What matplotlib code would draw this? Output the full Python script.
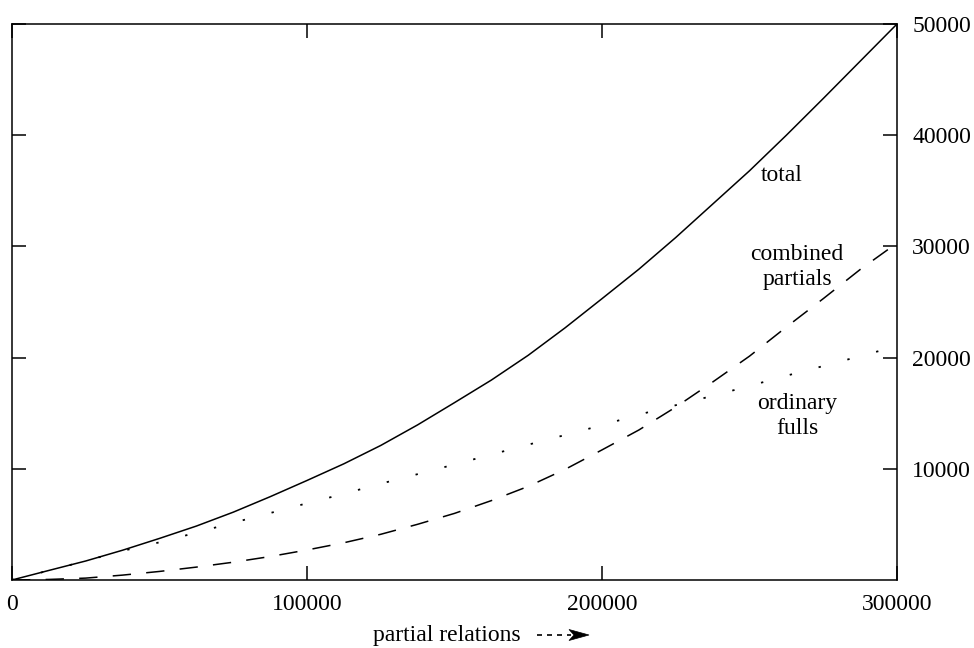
import matplotlib
matplotlib.use("Agg")
import matplotlib.pyplot as plt
from matplotlib.lines import Line2D
from matplotlib.patches import Polygon
import numpy as np

plt.rcParams['font.family'] = ['Liberation Serif', 'DejaVu Serif']

# partial relations (x), values every 12500
partials = [0, 12500, 25000, 37500, 50000, 62500, 75000, 87500, 100000,
            112500, 125000, 137500, 150000, 162500, 175000, 187500, 200000,
            212500, 225000, 237500, 250000, 262500, 275000, 287500, 300000]

total = [0, 860, 1710, 2680, 3740, 4850, 6100, 7490, 8950,
         10450, 12100, 13950, 15950, 17980, 20210, 22680, 25300,
         27950, 30800, 33800, 36800, 40000, 43300, 46650, 50000]
combined_partials = [0, 50, 170, 440, 770, 1160, 1600, 2110, 2700,
                     3350, 4110, 5010, 5990, 7140, 8420, 9950, 11700,
                     13490, 15550, 17800, 20130, 22750, 25300, 27920, 30300]
ordinary_fulls = [0, 850, 1720, 2620, 3390, 4260, 5150, 6020, 6900,
                  7750, 8660, 9520, 10390, 11280, 12170, 13040, 13920,
                  14870, 15720, 16560, 17450, 18370, 19240, 20130, 21030]

xticks = [0, 100000, 200000, 300000]
xticklabels = ['0', '100000', '200000', '300000']
yticks = [10000, 20000, 30000, 40000, 50000]
yticklabels = ['10000', '20000', '30000', '40000', '50000']

W, H = 974, 648
fs = 17

fig = plt.figure(figsize=(W / 100, H / 100), dpi=100)
ax = fig.add_axes([12 / W, 68 / H, 885 / W, 556 / H])

lw = 1.1
ax.plot(partials, total, color='black', lw=lw)
ax.plot(partials, combined_partials, color='black', lw=lw, dashes=(12, 10))
ax.plot(partials, ordinary_fulls, color='black', lw=1.3, dashes=(1.3, 15.2))

ax.set_xlim(0, 300000)
ax.set_ylim(0, 50000)

ax.set_xticks(xticks)
ax.set_xticklabels(xticklabels, fontsize=fs)
ax.set_yticks(yticks)
ax.set_yticklabels(yticklabels, fontsize=fs)
ax.tick_params(axis='x', direction='in', length=10, width=lw, top=True,
               bottom=True, pad=10)
ax.tick_params(axis='y', direction='in', length=10, width=lw, left=True,
               right=True, labelleft=False, labelright=True, pad=11)
for s in ax.spines.values():
    s.set_linewidth(lw)

ax.text(261000, 36420, 'total', fontsize=fs, ha='center', va='center')
ax.text(266100, 28150, 'combined\npartials', fontsize=fs, ha='center',
        va='center', linespacing=1.3)
ax.text(266100, 14750, 'ordinary\nfulls', fontsize=fs, ha='center',
        va='center', linespacing=1.3)

# x label with dashed arrow
yy = 1 - 635 / H
fig.text(373 / W, yy, 'partial relations', fontsize=fs, ha='left', va='center')
fig.add_artist(Line2D([537 / W, 571 / W], [yy, yy], transform=fig.transFigure,
                      color='black', lw=1.2, dashes=(3, 3)))
head = np.array([[569, 629.5], [589, 635], [569, 640.5], [574, 635]])
fig.add_artist(Polygon(np.c_[head[:, 0] / W, 1 - head[:, 1] / H],
                       closed=True, transform=fig.transFigure,
                       facecolor='black', edgecolor='black', lw=0.5))

fig.savefig('out.png', dpi=100)
